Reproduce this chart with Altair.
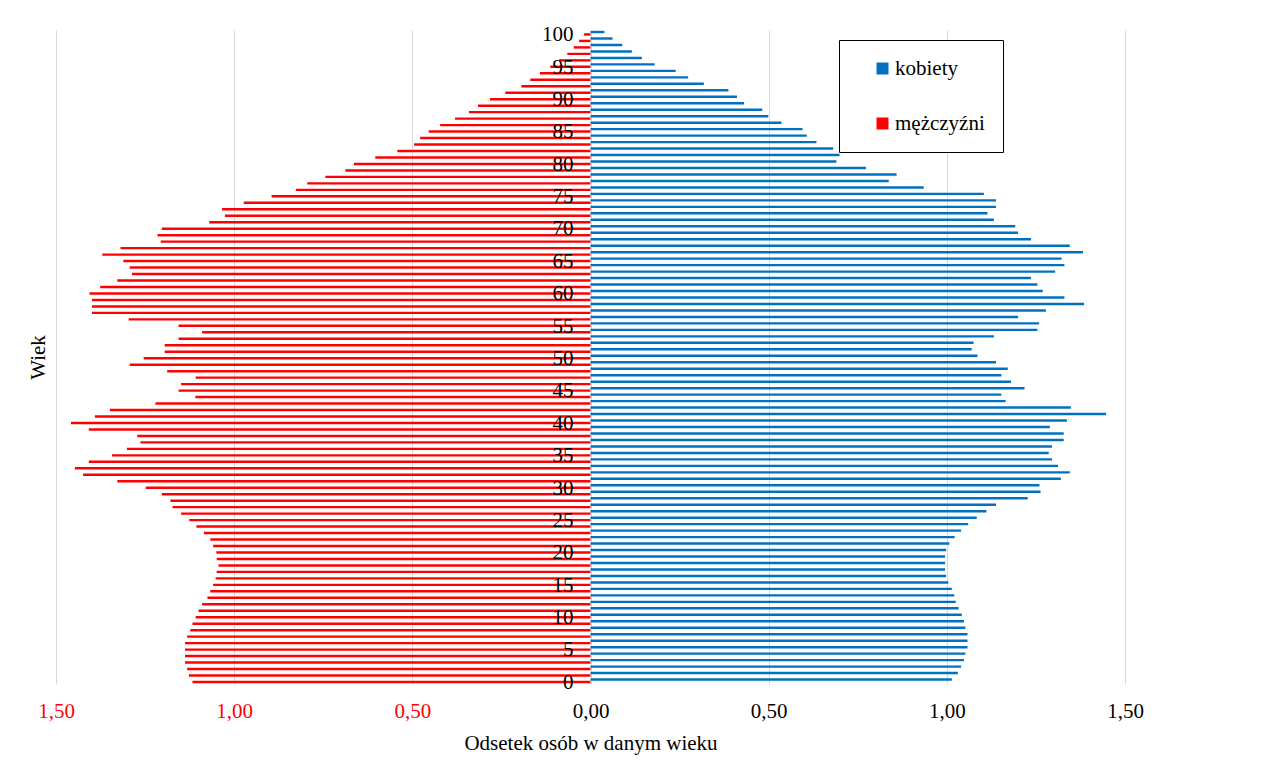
import altair as alt
import pandas as pd

ages = list(range(0, 101))

men = [1.117, 1.127, 1.132, 1.138, 1.138, 1.138, 1.138, 1.132, 1.123, 1.117,
       1.108, 1.100, 1.090, 1.075, 1.067, 1.059, 1.052, 1.049, 1.044, 1.049,
       1.050, 1.059, 1.067, 1.085, 1.106, 1.126, 1.149, 1.173, 1.179, 1.203,
       1.248, 1.328, 1.424, 1.447, 1.408, 1.343, 1.301, 1.263, 1.272, 1.408,
       1.458, 1.391, 1.349, 1.221, 1.109, 1.156, 1.149, 1.108, 1.188, 1.293,
       1.254, 1.195, 1.195, 1.156, 1.090, 1.156, 1.296, 1.399, 1.399, 1.399,
       1.406, 1.376, 1.328, 1.287, 1.293, 1.311, 1.370, 1.319, 1.206, 1.215,
       1.203, 1.070, 1.026, 1.034, 0.973, 0.895, 0.827, 0.795, 0.744, 0.688,
       0.664, 0.604, 0.542, 0.495, 0.478, 0.454, 0.422, 0.380, 0.341, 0.316,
       0.282, 0.239, 0.194, 0.169, 0.142, 0.113, 0.088, 0.065, 0.047, 0.032,
       0.018]

women = [1.014, 1.031, 1.040, 1.048, 1.052, 1.058, 1.058, 1.058, 1.052, 1.048,
         1.042, 1.033, 1.025, 1.021, 1.014, 1.004, 0.998, 0.995, 0.995, 0.995,
         0.998, 1.007, 1.022, 1.040, 1.060, 1.084, 1.111, 1.138, 1.227, 1.263,
         1.260, 1.320, 1.345, 1.312, 1.295, 1.286, 1.295, 1.328, 1.328, 1.289,
         1.337, 1.447, 1.348, 1.165, 1.153, 1.218, 1.180, 1.153, 1.171, 1.138,
         1.086, 1.070, 1.075, 1.132, 1.254, 1.259, 1.200, 1.278, 1.385, 1.330,
         1.269, 1.254, 1.236, 1.304, 1.330, 1.322, 1.382, 1.345, 1.236, 1.200,
         1.192, 1.132, 1.114, 1.138, 1.138, 1.104, 0.935, 0.837, 0.859, 0.773,
         0.690, 0.699, 0.681, 0.634, 0.607, 0.595, 0.536, 0.499, 0.482, 0.431,
         0.411, 0.387, 0.318, 0.274, 0.239, 0.180, 0.144, 0.116, 0.089, 0.062,
         0.039]

series = ["kobiety", "mężczyźni"]
colors = ["#0070C0", "#FF0000"]
x_ticks = [-1.5, -1.0, -0.5, 0.0, 0.5, 1.0, 1.5]
age_labels = list(range(0, 101, 5))

rows = []
for a, w, m in zip(ages, women, men):
    rows.append({"age": a, "sex": "kobiety", "value": w})
    rows.append({"age": a, "sex": "mężczyźni", "value": -m})
df = pd.DataFrame(rows)
lab_df = pd.DataFrame({"age": age_labels})

FONT = "Liberation Serif"
FS = 21

y_enc = alt.Y("age:O", sort="descending",
              scale=alt.Scale(paddingInner=0.25, paddingOuter=0.125),
              axis=alt.Axis(title="Wiek", labels=False, ticks=False, domain=False,
                            titlePadding=8, titleFont=FONT, titleFontSize=FS,
                            titleFontWeight="normal", titleColor="black"))

x_enc = alt.X("value:Q",
              scale=alt.Scale(domain=[-1.5, 1.5], nice=False),
              axis=alt.Axis(title="Odsetek osób w danym wieku", values=x_ticks,
                            labelExpr="replace(format(abs(datum.value), '.2f'), '.', ',')",
                            labelColor={"condition": {"test": "datum.value < 0", "value": "#FF0000"},
                                        "value": "black"},
                            labelFont=FONT, labelFontSize=FS, labelPadding=16,
                            labelFlush=False, labelOverlap=False,
                            titleFont=FONT, titleFontSize=FS, titleFontWeight="normal",
                            titleColor="black", titlePadding=11,
                            ticks=False, domain=False, grid=True,
                            gridColor="#d9d9d9", gridWidth=1))

bars = alt.Chart(df).mark_bar().encode(
    y=y_enc,
    x=x_enc,
    yOffset=alt.YOffset("sex:N", sort=series),
    color=alt.Color("sex:N", scale=alt.Scale(domain=series, range=colors),
                    legend=alt.Legend(title=None, orient="none", legendX=783, legendY=10,
                                      symbolType="square", symbolSize=144,
                                      symbolStrokeWidth=0, symbolOffset=15,
                                      labelFont=FONT, labelFontSize=FS, labelColor="black",
                                      labelOffset=2, rowPadding=33, padding=18,
                                      strokeColor="black", fillColor="white")),
)

labels = alt.Chart(lab_df).mark_text(align="right", baseline="middle", dx=-17, dy=2,
                                     font=FONT, fontSize=FS, color="black").encode(
    y=alt.Y("age:O", sort="descending"),
    x=alt.datum(0),
    text=alt.Text("age:O"),
)

chart = alt.layer(bars, labels).properties(
    width=1069, height=654,
    autosize=alt.AutoSizeParams(type="none"),
    padding={"left": 48, "top": 22, "right": 150, "bottom": 80},
).configure_view(strokeWidth=0).configure_axis(labelFont=FONT, titleFont=FONT)

chart.save("out.html", embed_options={"renderer": "svg", "actions": False})
